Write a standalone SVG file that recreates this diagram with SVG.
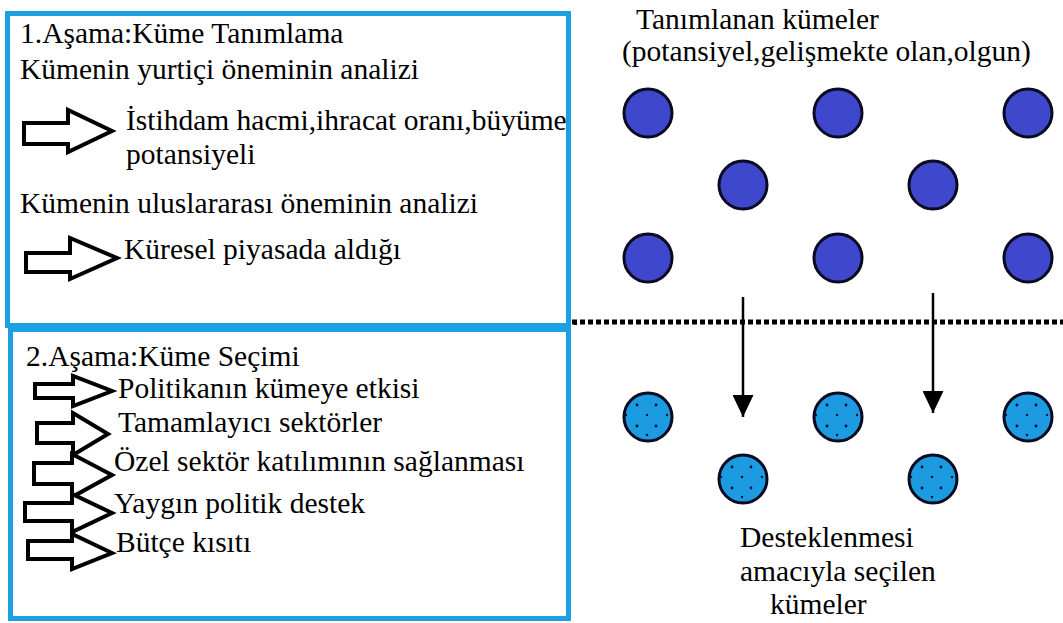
<svg xmlns="http://www.w3.org/2000/svg" width="1063" height="623" viewBox="0 0 1063 623">
  <style>
    text { font-family: "Liberation Serif", "Times New Roman", serif; font-size: 29.5px; fill: #000; }
    .stage { fill: none; stroke: #1ba0e2; stroke-width: 5; }
    .blk { fill: #fff; stroke: #000; stroke-width: 4; stroke-linejoin: miter; }
    .cl-dark { fill: #3f48cc; stroke: #0a0a20; stroke-width: 3; }
    .cl-light { fill: #1d9be0; stroke: #0a0a20; stroke-width: 3; }
    .dot { fill: #0a1040; }
    .flow { stroke: #000; stroke-width: 2.5; fill: none; }
    .divider { stroke: #000; stroke-width: 5; stroke-dasharray: 5 3; fill: none; }
  </style>
  <defs>
    <marker id="tri" viewBox="0 0 10 10" refX="10" refY="5" markerWidth="22" markerHeight="21" markerUnits="userSpaceOnUse" orient="auto" preserveAspectRatio="none">
      <path d="M0,0 L10,5 L0,10 Z" fill="#000"/>
    </marker>
    <!-- speckle pattern inside each selected cluster -->
    <g id="dots">
      <circle class="dot" cx="-11" cy="-12" r="1.4"/>
      <circle class="dot" cx="8" cy="-12" r="1.4"/>
      <circle class="dot" cx="-1" cy="-2" r="1.2"/>
      <circle class="dot" cx="19" cy="-2" r="1.2"/>
      <circle class="dot" cx="-22" cy="-2" r="1.2"/>
      <circle class="dot" cx="-11" cy="9" r="1.4"/>
      <circle class="dot" cx="8" cy="9" r="1.4"/>
      <circle class="dot" cx="-1" cy="18" r="1.2"/>
    </g>
  </defs>
  <rect width="1063" height="623" fill="#fff"/>

  <!-- Stage 1: cluster identification -->
  <g id="stage1">
    <rect class="stage" x="7.5" y="13.5" width="561" height="312"/>
    <text x="20" y="43">1.Aşama:Küme Tanımlama</text>
    <text x="20" y="79">Kümenin yurtiçi öneminin analizi</text>
    <path class="blk" d="M24,123 L68,123 L68,110 L112,131 L68,152 L68,144 L24,144 Z"/>
    <text x="126" y="130">İstihdam hacmi,ihracat oranı,büyüme</text>
    <text x="126" y="164">potansiyeli</text>
    <text x="20" y="213">Kümenin uluslararası öneminin analizi</text>
    <path class="blk" d="M26,253 L70,253 L70,238 L117,258 L70,279 L70,272 L26,272 Z"/>
    <text x="124" y="259">Küresel piyasada aldığı</text>
  </g>
  <rect x="574" y="320" width="3" height="5" fill="#000"/>

  <!-- Stage 2: cluster selection -->
  <g id="stage2">
    <rect class="stage" x="10.5" y="329.5" width="558" height="289"/>
    <text x="26" y="366">2.Aşama:Küme Seçimi</text>
    <path class="blk" d="M35,384 L73,384 L73,376 L112,391 L73,406 L73,398 L35,398 Z"/>
    <text x="118" y="398">Politikanın kümeye etkisi</text>
    <path class="blk" d="M37,423 L73,423 L73,413 L108,434 L73,455 L73,443 L37,443 Z"/>
    <text x="118" y="432">Tamamlayıcı sektörler</text>
    <path class="blk" d="M34,463 L72,463 L72,454 L112,475 L72,497 L72,484 L34,484 Z"/>
    <text x="114" y="471">Özel sektör katılımının sağlanması</text>
    <path class="blk" d="M25,503 L72,503 L72,494 L112,513 L72,532 L72,521 L25,521 Z"/>
    <text x="114" y="513">Yaygın politik destek</text>
    <path class="blk" d="M28,541 L72,541 L72,534 L112,553 L72,569 L72,559 L28,559 Z"/>
    <text x="116" y="552">Bütçe kısıtı</text>
  </g>

  <!-- Identified clusters -->
  <g id="identified">
    <text x="636" y="29">Tanımlanan kümeler</text>
    <text x="622" y="61">(potansiyel,gelişmekte olan,olgun)</text>
    <circle class="cl-dark" cx="648" cy="113" r="24"/>
    <circle class="cl-dark" cx="838" cy="113" r="24"/>
    <circle class="cl-dark" cx="1028" cy="113" r="24"/>
    <circle class="cl-dark" cx="743" cy="185" r="24"/>
    <circle class="cl-dark" cx="933" cy="185" r="24"/>
    <circle class="cl-dark" cx="648" cy="258" r="24"/>
    <circle class="cl-dark" cx="838" cy="258" r="24"/>
    <circle class="cl-dark" cx="1028" cy="258" r="24"/>
  </g>

  <!-- Selected clusters -->
  <g id="selected">
    <circle class="cl-light" cx="648" cy="417" r="24"/>
    <use href="#dots" x="648" y="417"/>
    <circle class="cl-light" cx="838" cy="417" r="24"/>
    <use href="#dots" x="838" y="417"/>
    <circle class="cl-light" cx="1028" cy="417" r="24"/>
    <use href="#dots" x="1028" y="417"/>
    <circle class="cl-light" cx="743" cy="479" r="24"/>
    <use href="#dots" x="743" y="479"/>
    <circle class="cl-light" cx="933" cy="479" r="24"/>
    <use href="#dots" x="933" y="479"/>
    <text x="740" y="547">Desteklenmesi</text>
    <text x="740" y="581">amacıyla seçilen</text>
    <text x="770" y="614">kümeler</text>
  </g>

  <!-- Connectors -->
  <g id="connectors">
    <line class="divider" x1="572" y1="322" x2="1063" y2="322"/>
    <line class="flow" x1="743" y1="297" x2="743" y2="417" marker-end="url(#tri)"/>
    <line class="flow" x1="933" y1="293" x2="933" y2="413" marker-end="url(#tri)"/>
  </g>
</svg>
